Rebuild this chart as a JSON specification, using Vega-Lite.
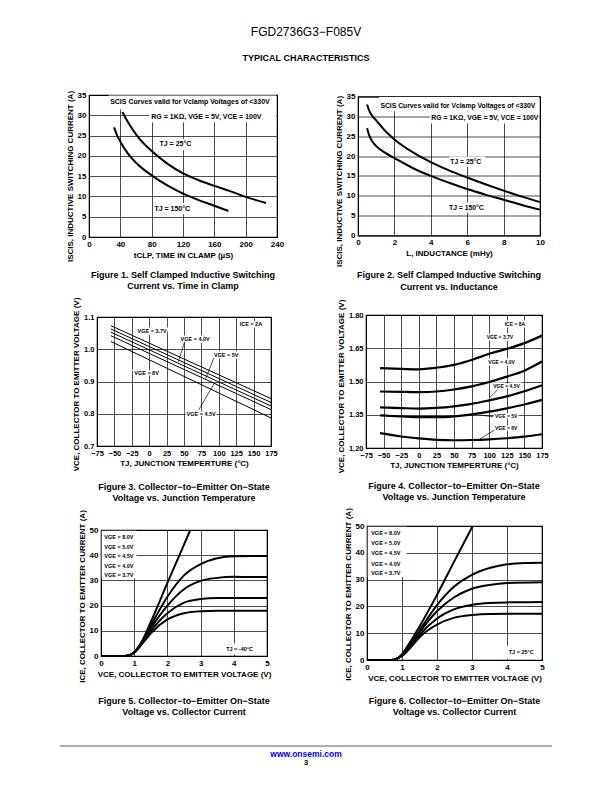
{
"$schema": "https://vega.github.io/schema/vega-lite/v6.json",
"background": "#ffffff",
"padding": {"left": 0, "right": 0, "top": 25, "bottom": 0},
"title": {"text": "FGD2736G3−F085V", "subtitle": "TYPICAL CHARACTERISTICS", "anchor": "middle", "font": "Liberation Sans", "fontSize": 12, "fontWeight": "normal", "color": "#000", "lineHeight": 12, "subtitleFont": "Liberation Sans", "subtitleFontSize": 9, "subtitleFontWeight": "bold", "subtitleColor": "#000", "subtitlePadding": 15, "offset": 26},
"config": {
 "font": "Liberation Sans",
 "view": {"stroke": "#000", "strokeWidth": 1.2},
 "axis": {"grid": true, "gridColor": "#000", "gridWidth": 0.7, "gridOpacity": 1, "domain": false, "ticks": false, "labelFont": "Liberation Sans", "labelFontSize": 8, "labelFontWeight": "bold", "labelColor": "#000", "labelPadding": 3, "labelFlush": false, "labelOverlap": false, "titleFont": "Liberation Sans", "titleFontSize": 8, "titleFontWeight": "bold", "titleColor": "#000", "titlePadding": 3},
 "title": {"font": "Liberation Sans", "fontSize": 9, "fontWeight": "bold", "color": "#000", "lineHeight": 11.5}
},
"datasets": {
 "f1": [
  {"s":"25","x":42.5,"y":30.8},{"s":"25","x":50,"y":28.2},{"s":"25","x":60,"y":25.3},{"s":"25","x":70,"y":23},{"s":"25","x":80,"y":21.2},{"s":"25","x":100,"y":18.1},{"s":"25","x":120,"y":15.7},{"s":"25","x":140,"y":14},{"s":"25","x":160,"y":12.6},{"s":"25","x":180,"y":11.3},{"s":"25","x":200,"y":9.9},{"s":"25","x":226,"y":8.4},
  {"s":"150","x":32,"y":27},{"s":"150","x":36,"y":25},{"s":"150","x":40,"y":23.5},{"s":"150","x":50,"y":20.5},{"s":"150","x":60,"y":18.3},{"s":"150","x":70,"y":16.6},{"s":"150","x":80,"y":15.2},{"s":"150","x":100,"y":12.7},{"s":"150","x":120,"y":10.7},{"s":"150","x":140,"y":9.1},{"s":"150","x":160,"y":7.7},{"s":"150","x":178,"y":6.4}
 ],
 "f1box": [{"x":25,"x2":239,"y":31.5,"y2":34.9},{"x":77,"x2":239,"y":28.3,"y2":31.5},{"x":88,"x2":133,"y":21.4,"y2":24.2},{"x":82,"x2":135,"y":5.6,"y2":8.4}],
 "f1lab": [{"x":27,"y":33.3,"t":"SCIS Curves valid for Vclamp Voltages of <330V"},{"x":79.5,"y":29.7,"t":"RG = 1KΩ, VGE = 5V, VCE = 100V"},{"x":90,"y":22.8,"t":"TJ = 25°C"},{"x":83.5,"y":7,"t":"TJ = 150°C"}],
 "f2": [
  {"s":"25","x":0.5,"y":33},{"s":"25","x":0.6,"y":31.6},{"s":"25","x":0.8,"y":30},{"s":"25","x":1,"y":29},{"s":"25","x":1.5,"y":26.3},{"s":"25","x":2,"y":24.2},{"s":"25","x":3,"y":21},{"s":"25","x":4,"y":18.5},{"s":"25","x":5,"y":16.4},{"s":"25","x":6,"y":14.6},{"s":"25","x":7,"y":12.9},{"s":"25","x":8,"y":11.3},{"s":"25","x":9,"y":9.8},{"s":"25","x":10,"y":8.4},
  {"s":"150","x":0.5,"y":27},{"s":"150","x":0.6,"y":25.4},{"s":"150","x":0.8,"y":23.6},{"s":"150","x":1,"y":22.5},{"s":"150","x":1.5,"y":20.8},{"s":"150","x":2,"y":19.5},{"s":"150","x":3,"y":17},{"s":"150","x":4,"y":15},{"s":"150","x":5,"y":13.3},{"s":"150","x":6,"y":11.7},{"s":"150","x":7,"y":10.3},{"s":"150","x":8,"y":9},{"s":"150","x":9,"y":7.7},{"s":"150","x":10,"y":6.5}
 ],
 "f2box": [{"x":1.15,"x2":9.95,"y":31.3,"y2":34.9},{"x":3.95,"x2":9.95,"y":28.2,"y2":31.3},{"x":5.0,"x2":7.0,"y":17.3,"y2":19.9},{"x":4.93,"x2":7.2,"y":5.8,"y2":8.3}],
 "f2lab": [{"x":1.23,"y":32.7,"t":"SCIS Curves valid for Vclamp Voltages of <330V"},{"x":4.03,"y":29.7,"t":"RG = 1KΩ, VGE = 5V, VCE = 100V"},{"x":5.07,"y":18.6,"t":"TJ = 25°C"},{"x":5.0,"y":7.05,"t":"TJ = 150°C"}],
 "f3": [
  {"s":"3.7","x":-55,"y":1.073},{"s":"3.7","x":175,"y":0.847},
  {"s":"4.0","x":-55,"y":1.063},{"s":"4.0","x":175,"y":0.835},
  {"s":"4.5","x":-55,"y":1.053},{"s":"4.5","x":175,"y":0.824},
  {"s":"5","x":-55,"y":1.042},{"s":"5","x":175,"y":0.813},
  {"s":"8","x":-55,"y":1.024},{"s":"8","x":175,"y":0.787}
 ],
 "f3lab": [{"x":-16.7,"y":1.058,"t":"VGE = 3.7V"},{"x":45,"y":1.031,"t":"VGE = 4.0V"},{"x":93,"y":0.983,"t":"VGE = 5V"},{"x":-21.5,"y":0.926,"t":"VGE = 8V"},{"x":53.6,"y":0.799,"t":"VGE = 4.5V"},{"x":130,"y":1.078,"t":"ICE = 2A"}],
 "f3arr": [{"x":50.7,"y":1.022,"x2":41.6,"y2":0.960},{"x":93.1,"y":0.974,"x2":81.1,"y2":0.909},{"x":71.4,"y":0.813,"x2":93.1,"y2":0.893}],
 "f4": [
  {"s":"3.7","x":-55,"y":1.56},{"s":"3.7","x":-25,"y":1.557},{"s":"3.7","x":0,"y":1.555},{"s":"3.7","x":25,"y":1.562},{"s":"3.7","x":50,"y":1.575},{"s":"3.7","x":75,"y":1.597},{"s":"3.7","x":100,"y":1.625},{"s":"3.7","x":125,"y":1.647},{"s":"3.7","x":150,"y":1.673},{"s":"3.7","x":175,"y":1.707},
  {"s":"4.0","x":-55,"y":1.455},{"s":"4.0","x":-25,"y":1.453},{"s":"4.0","x":0,"y":1.452},{"s":"4.0","x":25,"y":1.455},{"s":"4.0","x":50,"y":1.464},{"s":"4.0","x":75,"y":1.478},{"s":"4.0","x":100,"y":1.498},{"s":"4.0","x":125,"y":1.522},{"s":"4.0","x":150,"y":1.549},{"s":"4.0","x":175,"y":1.59},
  {"s":"4.5","x":-55,"y":1.383},{"s":"4.5","x":-25,"y":1.38},{"s":"4.5","x":0,"y":1.378},{"s":"4.5","x":25,"y":1.381},{"s":"4.5","x":50,"y":1.388},{"s":"4.5","x":75,"y":1.399},{"s":"4.5","x":100,"y":1.415},{"s":"4.5","x":125,"y":1.433},{"s":"4.5","x":150,"y":1.456},{"s":"4.5","x":175,"y":1.483},
  {"s":"5","x":-55,"y":1.347},{"s":"5","x":-25,"y":1.342},{"s":"5","x":0,"y":1.339},{"s":"5","x":25,"y":1.339},{"s":"5","x":50,"y":1.343},{"s":"5","x":75,"y":1.352},{"s":"5","x":100,"y":1.364},{"s":"5","x":125,"y":1.379},{"s":"5","x":150,"y":1.396},{"s":"5","x":175,"y":1.417},
  {"s":"8","x":-55,"y":1.267},{"s":"8","x":-25,"y":1.252},{"s":"8","x":0,"y":1.243},{"s":"8","x":25,"y":1.237},{"s":"8","x":50,"y":1.235},{"s":"8","x":75,"y":1.236},{"s":"8","x":100,"y":1.239},{"s":"8","x":125,"y":1.244},{"s":"8","x":150,"y":1.251},{"s":"8","x":175,"y":1.262}
 ],
 "f4lab": [{"x":122,"y":1.759,"t":"ICE = 8A"},{"x":96.4,"y":1.699,"t":"VGE = 3.7V"},{"x":98.8,"y":1.587,"t":"VGE = 4.0V"},{"x":105.8,"y":1.481,"t":"VGE = 4.5V"},{"x":108.2,"y":1.343,"t":"VGE = 5V"},{"x":108.2,"y":1.289,"t":"VGE = 8V"}],
 "f4arr": [{"x":112.9,"y":1.466,"x2":101.1,"y2":1.429},{"x":86,"y":1.349,"x2":105.8,"y2":1.341},{"x":108.2,"y":1.283,"x2":87,"y2":1.241}],
 "f5": [
  {"s":"8.0","x":0,"y":0},{"s":"8.0","x":0.7,"y":0},{"s":"8.0","x":0.85,"y":0.3},{"s":"8.0","x":1,"y":1.5},{"s":"8.0","x":1.2,"y":5},{"s":"8.0","x":1.5,"y":13.5},{"s":"8.0","x":2,"y":29},{"s":"8.0","x":2.5,"y":44.2},{"s":"8.0","x":2.69,"y":50},
  {"s":"5.0","x":0,"y":0},{"s":"5.0","x":0.7,"y":0},{"s":"5.0","x":0.9,"y":0.5},{"s":"5.0","x":1,"y":1.5},{"s":"5.0","x":1.25,"y":6},{"s":"5.0","x":1.5,"y":12},{"s":"5.0","x":2,"y":23.5},{"s":"5.0","x":2.5,"y":32},{"s":"5.0","x":3,"y":36.5},{"s":"5.0","x":3.5,"y":38.8},{"s":"5.0","x":4,"y":39.6},{"s":"5.0","x":5,"y":39.7},
  {"s":"4.5","x":0,"y":0},{"s":"4.5","x":0.7,"y":0},{"s":"4.5","x":0.9,"y":0.5},{"s":"4.5","x":1,"y":1.5},{"s":"4.5","x":1.25,"y":5.8},{"s":"4.5","x":1.5,"y":11},{"s":"4.5","x":2,"y":20},{"s":"4.5","x":2.5,"y":26.5},{"s":"4.5","x":3,"y":29.8},{"s":"4.5","x":3.5,"y":31},{"s":"4.5","x":4,"y":31.4},{"s":"4.5","x":5,"y":31.3},
  {"s":"4.0","x":0,"y":0},{"s":"4.0","x":0.7,"y":0},{"s":"4.0","x":0.9,"y":0.5},{"s":"4.0","x":1,"y":1.4},{"s":"4.0","x":1.25,"y":5.5},{"s":"4.0","x":1.5,"y":10},{"s":"4.0","x":2,"y":17},{"s":"4.0","x":2.5,"y":21.2},{"s":"4.0","x":3,"y":22.6},{"s":"4.0","x":3.5,"y":23},{"s":"4.0","x":5,"y":23},
  {"s":"3.7","x":0,"y":0},{"s":"3.7","x":0.7,"y":0},{"s":"3.7","x":0.9,"y":0.5},{"s":"3.7","x":1,"y":1.3},{"s":"3.7","x":1.25,"y":5},{"s":"3.7","x":1.5,"y":9},{"s":"3.7","x":2,"y":14.5},{"s":"3.7","x":2.5,"y":17},{"s":"3.7","x":3,"y":17.8},{"s":"3.7","x":3.5,"y":18},{"s":"3.7","x":5,"y":18}
 ],
 "f5box": [{"x":0.02,"x2":1.07,"y":30.8,"y2":49.7},{"x":3.72,"x2":4.97,"y":0.6,"y2":5}],
 "f5lab": [{"x":0.1,"y":47.1,"t":"VGE = 8.0V"},{"x":0.1,"y":43.2,"t":"VGE = 5.0V"},{"x":0.1,"y":39.5,"t":"VGE = 4.5V"},{"x":0.1,"y":35.7,"t":"VGE = 4.0V"},{"x":0.1,"y":32.1,"t":"VGE = 3.7V"},{"x":3.77,"y":2.8,"t":"TJ = -40°C"}],
 "f6": [
  {"s":"8.0","x":0,"y":0},{"s":"8.0","x":0.7,"y":0},{"s":"8.0","x":0.85,"y":0.5},{"s":"8.0","x":1,"y":2.2},{"s":"8.0","x":1.2,"y":6},{"s":"8.0","x":1.5,"y":12.5},{"s":"8.0","x":2,"y":24.3},{"s":"8.0","x":2.5,"y":37},{"s":"8.0","x":3,"y":49.5},{"s":"8.0","x":3.02,"y":50},
  {"s":"5.0","x":0,"y":0},{"s":"5.0","x":0.7,"y":0},{"s":"5.0","x":0.85,"y":0.5},{"s":"5.0","x":1,"y":1.8},{"s":"5.0","x":1.25,"y":6},{"s":"5.0","x":1.5,"y":11},{"s":"5.0","x":2,"y":20.5},{"s":"5.0","x":2.5,"y":27.5},{"s":"5.0","x":3,"y":31.8},{"s":"5.0","x":3.5,"y":34.3},{"s":"5.0","x":4,"y":35.7},{"s":"5.0","x":4.5,"y":36.2},{"s":"5.0","x":5,"y":36.3},
  {"s":"4.5","x":0,"y":0},{"s":"4.5","x":0.7,"y":0},{"s":"4.5","x":0.85,"y":0.5},{"s":"4.5","x":1,"y":1.7},{"s":"4.5","x":1.25,"y":5.5},{"s":"4.5","x":1.5,"y":10.3},{"s":"4.5","x":2,"y":18.2},{"s":"4.5","x":2.5,"y":23.5},{"s":"4.5","x":3,"y":26.6},{"s":"4.5","x":3.5,"y":28},{"s":"4.5","x":4,"y":28.7},{"s":"4.5","x":5,"y":29},
  {"s":"4.0","x":0,"y":0},{"s":"4.0","x":0.7,"y":0},{"s":"4.0","x":0.85,"y":0.5},{"s":"4.0","x":1,"y":1.6},{"s":"4.0","x":1.25,"y":5},{"s":"4.0","x":1.5,"y":9.3},{"s":"4.0","x":2,"y":15.5},{"s":"4.0","x":2.5,"y":19},{"s":"4.0","x":3,"y":20.6},{"s":"4.0","x":3.5,"y":21.3},{"s":"4.0","x":4,"y":21.5},{"s":"4.0","x":5,"y":21.6},
  {"s":"3.7","x":0,"y":0},{"s":"3.7","x":0.7,"y":0},{"s":"3.7","x":0.85,"y":0.5},{"s":"3.7","x":1,"y":1.5},{"s":"3.7","x":1.25,"y":4.7},{"s":"3.7","x":1.5,"y":8.5},{"s":"3.7","x":2,"y":13.2},{"s":"3.7","x":2.5,"y":15.8},{"s":"3.7","x":3,"y":16.8},{"s":"3.7","x":3.5,"y":17.2},{"s":"3.7","x":5,"y":17.3}
 ],
 "f6box": [{"x":0.02,"x2":1.13,"y":31,"y2":49.7},{"x":4.0,"x2":4.97,"y":0.6,"y2":5.3}],
 "f6lab": [{"x":0.12,"y":47.3,"t":"VGE = 8.0V"},{"x":0.12,"y":43.5,"t":"VGE = 5.0V"},{"x":0.12,"y":39.8,"t":"VGE = 4.5V"},{"x":0.12,"y":36.0,"t":"VGE = 4.0V"},{"x":0.12,"y":32.3,"t":"VGE = 3.7V"},{"x":4.05,"y":3.0,"t":"TJ = 25°C"}]
},
"spacing": 0,
"vconcat": [
 {"bounds": "flush", "center": true, "spacing": 0, "hconcat": [
  {"width": 89, "height": 1, "data": {"values": []}, "mark": "point", "view": {"stroke": null}},
  {"width": 188, "height": 142,
   "title": {"text": ["Figure 1. Self Clamped Inductive Switching", "Current vs. Time in Clamp"], "orient": "bottom", "frame": "group", "anchor": "middle", "offset": 9},
   "encoding": {
    "x": {"field": "x", "type": "quantitative", "scale": {"domain": [0, 240], "nice": false}, "axis": {"values": [0, 40, 80, 120, 160, 200, 240], "title": "tCLP, TIME IN CLAMP (µS)"}},
    "y": {"field": "y", "type": "quantitative", "scale": {"domain": [0, 35], "nice": false}, "axis": {"values": [0, 5, 10, 15, 20, 25, 30, 35], "title": "ISCIS, INDUCTIVE SWITCHING CURRENT (A)", "titleY": 81}}
   },
   "layer": [
    {"data": {"name": "f1box"}, "mark": {"type": "rect", "color": "#fff"}, "encoding": {"x2": {"field": "x2"}, "y2": {"field": "y2"}}},
    {"data": {"name": "f1"}, "mark": {"type": "line", "color": "#000", "strokeWidth": 2, "interpolate": "monotone"}, "encoding": {"detail": {"field": "s", "type": "nominal"}}},
    {"data": {"name": "f1lab"}, "mark": {"type": "text", "align": "left", "baseline": "middle", "fontSize": 7, "fontWeight": "bold", "color": "#000"}, "encoding": {"text": {"field": "t", "type": "nominal"}}}
   ]
  },
  {"width": 81, "height": 1, "data": {"values": []}, "mark": "point", "view": {"stroke": null}},
  {"width": 182, "height": 139,
   "title": {"text": ["Figure 2. Self Clamped Inductive Switching", "Current vs. Inductance"], "orient": "bottom", "frame": "group", "anchor": "middle", "offset": 4.5},
   "encoding": {
    "x": {"field": "x", "type": "quantitative", "scale": {"domain": [0, 10], "nice": false}, "axis": {"values": [0, 2, 4, 6, 8, 10], "title": "L, INDUCTANCE (mHy)"}},
    "y": {"field": "y", "type": "quantitative", "scale": {"domain": [0, 35], "nice": false}, "axis": {"values": [0, 5, 10, 15, 20, 25, 30, 35], "title": "ISCIS, INDUCTIVE SWITCHING CURRENT (A)", "titleY": 84.5}}
   },
   "layer": [
    {"data": {"name": "f2box"}, "mark": {"type": "rect", "color": "#fff"}, "encoding": {"x2": {"field": "x2"}, "y2": {"field": "y2"}}},
    {"data": {"name": "f2"}, "mark": {"type": "line", "color": "#000", "strokeWidth": 2, "interpolate": "monotone"}, "encoding": {"detail": {"field": "s", "type": "nominal"}}},
    {"data": {"name": "f2lab"}, "mark": {"type": "text", "align": "left", "baseline": "middle", "fontSize": 6.8, "fontWeight": "bold", "color": "#000"}, "encoding": {"text": {"field": "t", "type": "nominal"}}}
   ]
  }
 ]},
 {"width": 1, "height": 3, "data": {"values": []}, "mark": "point", "view": {"stroke": null}},
 {"bounds": "flush", "center": true, "spacing": 0, "hconcat": [
  {"width": 97, "height": 1, "data": {"values": []}, "mark": "point", "view": {"stroke": null}},
  {"width": 174, "height": 129,
   "title": {"text": ["Figure 3. Collector−to−Emitter On−State", "Voltage vs. Junction Temperature"], "orient": "bottom", "frame": "group", "anchor": "middle", "offset": 12},
   "encoding": {
    "x": {"field": "x", "type": "quantitative", "scale": {"domain": [-75, 175], "nice": false}, "axis": {"values": [-75, -50, -25, 0, 25, 50, 75, 100, 125, 150, 175], "labelFontSize": 7.5, "title": "TJ, JUNCTION TEMPERTURE (°C)"}},
    "y": {"field": "y", "type": "quantitative", "scale": {"domain": [0.7, 1.1], "nice": false, "zero": false}, "axis": {"values": [0.7, 0.8, 0.9, 1.0, 1.1], "format": ".1f", "labelFontSize": 7.5, "title": "VCE, COLLECTOR TO EMITTER VOLTAGE (V)", "titleY": 67}}
   },
   "layer": [
    {"data": {"name": "f3"}, "mark": {"type": "line", "color": "#000", "strokeWidth": 1}, "encoding": {"detail": {"field": "s", "type": "nominal"}}},
    {"data": {"name": "f3arr"}, "mark": {"type": "rule", "color": "#000", "strokeWidth": 0.7}, "encoding": {"x2": {"field": "x2"}, "y2": {"field": "y2"}}},
    {"data": {"name": "f3lab"}, "mark": {"type": "text", "align": "left", "baseline": "middle", "fontSize": 5.5, "fontWeight": "bold", "color": "#fff", "stroke": "#fff", "strokeWidth": 3}, "encoding": {"text": {"field": "t", "type": "nominal"}}},
    {"data": {"name": "f3lab"}, "mark": {"type": "text", "align": "left", "baseline": "middle", "fontSize": 5.5, "fontWeight": "bold", "color": "#000"}, "encoding": {"text": {"field": "t", "type": "nominal"}}}
   ]
  },
  {"width": 95, "height": 1, "data": {"values": []}, "mark": "point", "view": {"stroke": null}},
  {"width": 176, "height": 133,
   "title": {"text": ["Figure 4. Collector−to−Emitter On−State", "Voltage vs. Junction Temperature"], "orient": "bottom", "frame": "group", "anchor": "middle", "offset": 9},
   "encoding": {
    "x": {"field": "x", "type": "quantitative", "scale": {"domain": [-75, 175], "nice": false}, "axis": {"values": [-75, -50, -25, 0, 25, 50, 75, 100, 125, 150, 175], "labelFontSize": 7.5, "title": "TJ, JUNCTION TEMPERTURE (°C)"}},
    "y": {"field": "y", "type": "quantitative", "scale": {"domain": [1.2, 1.8], "nice": false, "zero": false}, "axis": {"values": [1.2, 1.35, 1.5, 1.65, 1.8], "format": ".2f", "labelFontSize": 7.5, "title": "VCE, COLLECTOR TO EMITTER VOLTAGE (V)", "titleY": 71}}
   },
   "layer": [
    {"data": {"name": "f4"}, "mark": {"type": "line", "color": "#000", "strokeWidth": 2.2, "interpolate": "monotone"}, "encoding": {"detail": {"field": "s", "type": "nominal"}}},
    {"data": {"name": "f4arr"}, "mark": {"type": "rule", "color": "#000", "strokeWidth": 0.7}, "encoding": {"x2": {"field": "x2"}, "y2": {"field": "y2"}}},
    {"data": {"name": "f4lab"}, "mark": {"type": "text", "align": "left", "baseline": "middle", "fontSize": 5, "fontWeight": "bold", "color": "#fff", "stroke": "#fff", "strokeWidth": 3}, "encoding": {"text": {"field": "t", "type": "nominal"}}},
    {"data": {"name": "f4lab"}, "mark": {"type": "text", "align": "left", "baseline": "middle", "fontSize": 5, "fontWeight": "bold", "color": "#000"}, "encoding": {"text": {"field": "t", "type": "nominal"}}}
   ]
  }
 ]},
 {"width": 1, "height": 3, "data": {"values": []}, "mark": "point", "view": {"stroke": null}},
 {"bounds": "flush", "center": true, "spacing": 0, "hconcat": [
  {"width": 101, "height": 1, "data": {"values": []}, "mark": "point", "view": {"stroke": null}},
  {"width": 166, "height": 126,
   "title": {"text": ["Figure 5. Collector−to−Emitter On−State", "Voltage vs. Collector Current"], "orient": "bottom", "frame": "group", "anchor": "middle", "offset": 14.5},
   "encoding": {
    "x": {"field": "x", "type": "quantitative", "scale": {"domain": [0, 5], "nice": false}, "axis": {"values": [0, 1, 2, 3, 4, 5], "title": "VCE, COLLECTOR TO EMITTER VOLTAGE (V)"}},
    "y": {"field": "y", "type": "quantitative", "scale": {"domain": [0, 50], "nice": false}, "axis": {"values": [0, 10, 20, 30, 40, 50], "title": "ICE, COLLECTOR TO EMITTER CURRENT (A)", "titleY": 66}}
   },
   "layer": [
    {"data": {"name": "f5box"}, "mark": {"type": "rect", "color": "#fff"}, "encoding": {"x2": {"field": "x2"}, "y2": {"field": "y2"}}},
    {"data": {"name": "f5"}, "mark": {"type": "line", "color": "#000", "strokeWidth": 2, "interpolate": "monotone"}, "encoding": {"detail": {"field": "s", "type": "nominal"}}},
    {"data": {"name": "f5lab"}, "mark": {"type": "text", "align": "left", "baseline": "middle", "fontSize": 5.5, "fontWeight": "bold", "color": "#000"}, "encoding": {"text": {"field": "t", "type": "nominal"}}}
   ]
  },
  {"width": 100, "height": 1, "data": {"values": []}, "mark": "point", "view": {"stroke": null}},
  {"width": 175, "height": 134,
   "title": {"text": ["Figure 6. Collector−to−Emitter On−State", "Voltage vs. Collector Current"], "orient": "bottom", "frame": "group", "anchor": "middle", "offset": 14.5},
   "encoding": {
    "x": {"field": "x", "type": "quantitative", "scale": {"domain": [0, 5], "nice": false}, "axis": {"values": [0, 1, 2, 3, 4, 5], "title": "VCE, COLLECTOR TO EMITTER VOLTAGE (V)"}},
    "y": {"field": "y", "type": "quantitative", "scale": {"domain": [0, 50], "nice": false}, "axis": {"values": [0, 10, 20, 30, 40, 50], "title": "ICE, COLLECTOR TO EMITTER CURRENT (A)", "titleY": 68}}
   },
   "layer": [
    {"data": {"name": "f6box"}, "mark": {"type": "rect", "color": "#fff"}, "encoding": {"x2": {"field": "x2"}, "y2": {"field": "y2"}}},
    {"data": {"name": "f6"}, "mark": {"type": "line", "color": "#000", "strokeWidth": 2, "interpolate": "monotone"}, "encoding": {"detail": {"field": "s", "type": "nominal"}}},
    {"data": {"name": "f6lab"}, "mark": {"type": "text", "align": "left", "baseline": "middle", "fontSize": 5.5, "fontWeight": "bold", "color": "#000"}, "encoding": {"text": {"field": "t", "type": "nominal"}}}
   ]
  }
 ]},
 {"width": 1, "height": 27, "data": {"values": []}, "mark": "point", "view": {"stroke": null}},
 {"bounds": "flush", "spacing": 0, "hconcat": [
  {"width": 60, "height": 1, "data": {"values": []}, "mark": "point", "view": {"stroke": null}},
  {"width": 492, "height": 2, "data": {"values": []}, "mark": "point", "view": {"fill": "#b0b0b0", "stroke": null},
   "title": {"text": "www.onsemi.com", "subtitle": "3", "orient": "bottom", "frame": "group", "anchor": "middle", "offset": 3, "fontSize": 8.5, "fontWeight": "bold", "color": "#0000ee", "lineHeight": 9, "subtitleFont": "Liberation Sans", "subtitleFontSize": 7.5, "subtitleFontWeight": "bold", "subtitleColor": "#000", "subtitlePadding": 0}},
  {"width": 60, "height": 1, "data": {"values": []}, "mark": "point", "view": {"stroke": null}}
 ]}
]
}
